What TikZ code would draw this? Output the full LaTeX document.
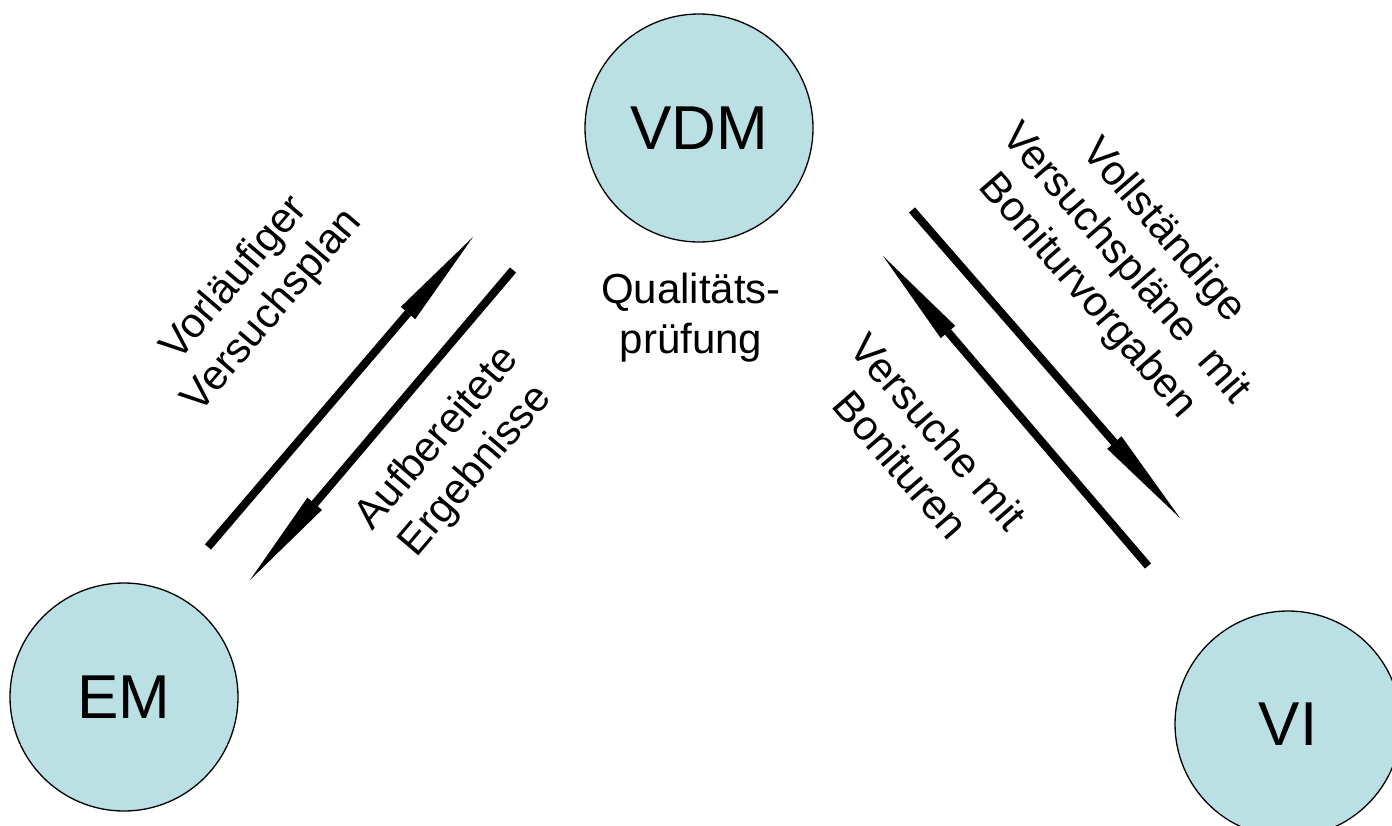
\documentclass[tikz,border=0pt]{standalone}
\usepackage{fontspec}
\setmainfont{Liberation Sans}
\usetikzlibrary{arrows.meta}
\definecolor{bubble}{RGB}{187,224,227}
\begin{document}
\begin{tikzpicture}[x=1pt,y=-1pt,
  circ/.style={circle,draw=black,line width=1.3pt,fill=bubble,inner sep=0pt,
    font=\fontsize{62}{66}\selectfont},
  flow/.style={line width=8pt,-{Triangle[length=100pt,width=19pt,line width=0pt]}},
  lbl/.style={align=center,inner sep=0pt,font=\fontsize{42}{50}\selectfont}]
\useasboundingbox (0,0) rectangle (1392,825);
% circles
\node[circ,minimum size=228pt] (vdm) at (699,128) {VDM};
\node[circ,minimum size=228pt] (em) at (124,697) {EM};
\node[circ,minimum size=226pt] (vi) at (1288,724) {VI};
% arrow end points
\coordinate (a1s) at (208,547); \coordinate (a1e) at (473,237);
\coordinate (a2s) at (513,270); \coordinate (a2e) at (250,580);
\coordinate (a3s) at (912,210); \coordinate (a3e) at (1180,518);
\coordinate (a4s) at (1148,566); \coordinate (a4e) at (883,256);
\draw[flow] (a1s) -- (a1e);
\draw[flow] (a2s) -- (a2e);
\draw[flow] (a3s) -- (a3e);
\draw[flow] (a4s) -- (a4e);
% labels
\node[lbl] (qp) at (691,318) {Qualitäts-\\prüfung};
\node[lbl,rotate=49.5] (l1) at (254,295) {Vorläufiger\\Versuchsplan};
\node[lbl,rotate=49.5] (l2) at (457,455) {Aufbereitete\\Ergebnisse};
\node[lbl,rotate=-49] (l3) at (1125,264) {Vollständige\\Versuchspläne\ \ mit\\Boniturvorgaben};
\node[lbl,rotate=-49] (l4) at (920,448) {Versuche mit\\Bonituren};
\end{tikzpicture}
\end{document}
